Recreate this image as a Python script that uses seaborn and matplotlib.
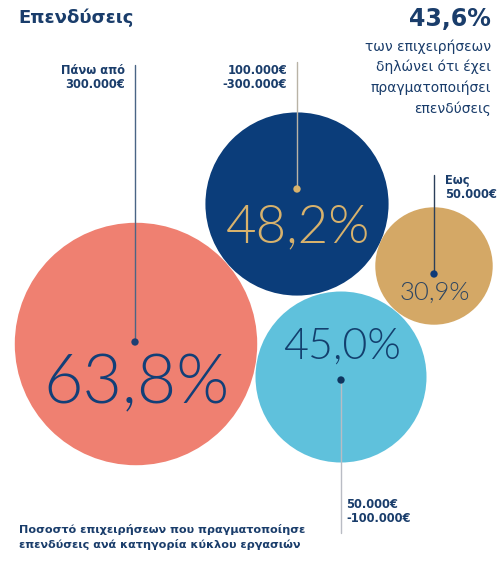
import matplotlib
matplotlib.use("Agg")
import matplotlib.pyplot as plt
from matplotlib.patches import Circle
import seaborn as sns
import pandas as pd

# ---- data ----
categories = ["Πάνω από\n300.000€", "100.000€\n-300.000€", "50.000€\n-100.000€", "Εως\n50.000€"]
values = [63.8, 48.2, 45.0, 30.9]
total_value = 43.6
title = "Επενδύσεις"
subtitle = "των επιχειρήσεων\nδηλώνει ότι έχει\nπραγματοποιήσει\nεπενδύσεις"
note = "Ποσοστό επιχειρήσεων που πραγματοποίησε\nεπενδύσεις ανά κατηγορία κύκλου εργασιών"

# ---- layout / style (pixel coordinates) ----
centers = [(136, 344), (297, 204), (341, 377), (434, 266)]
scale = 1.9
fills = ["#ef8071", "#0b3d7a", "#5fc1dc", "#d4a866"]
num_colors = ["#123f78", "#d8b26c", "#133f6e", "#2e4662"]
num_sizes = [49, 38, 31, 18.5]
num_offsets = [40, 24, -30, 27]
dots = [(135, 342), (297, 189), (341, 380), (434, 274)]
dot_colors = ["#1d3f73", "#d8b26c", "#0f355f", "#0e3a78"]
line_colors = ["#4a6585", "#b9b3a6", "#b9bcc4", "#2b3f5a"]
line_ends = [65, 62, 533, 175]
label_pos = [(125, 64, "right"), (287, 64, "right"), (346, 498, "left"), (445, 174, "left")]
navy = "#1a3d6b"
wide = ["DejaVu Sans"]

sns.set_theme(style="white")
plt.rcParams["font.family"] = ["Lato", "Noto Sans", "DejaVu Sans"]

fig = plt.figure(figsize=(5.01, 5.65), dpi=100)
ax = fig.add_axes([0, 0, 1, 1])
ax.set_xlim(0, 501)
ax.set_ylim(565, 0)
ax.set_aspect("equal")
ax.axis("off")

for (cx, cy), v, fc in zip(centers, values, fills):
    ax.add_patch(Circle((cx, cy), v * scale, facecolor=fc, edgecolor="none", zorder=1))

# leader lines
for (dx, dy), ye, lc in zip(dots, line_ends, line_colors):
    ax.plot([dx, dx], [dy, ye], color=lc, lw=1.0, zorder=2)

dots_df = pd.DataFrame({"x": [d[0] for d in dots], "y": [d[1] for d in dots], "cat": categories})
sns.scatterplot(data=dots_df, x="x", y="y", hue="cat", palette=dot_colors, s=28,
                edgecolor="none", legend=False, ax=ax, zorder=3)
ax.set_xlabel("")
ax.set_ylabel("")

for (cx, cy), v, col, fs, off in zip(centers, values, num_colors, num_sizes, num_offsets):
    ax.text(cx + 1, cy + off, f"{v:.1f}".replace(".", ",") + "%", color=col,
            fontsize=fs, fontweight=300, ha="center", va="center", zorder=4)

for cat, (lx, ly, ha) in zip(categories, label_pos):
    ax.text(lx, ly, cat, ha=ha, va="top", color=navy, fontsize=8.3, family=wide,
            fontweight="bold", linespacing=1.15, zorder=4)

ax.text(18, 18, title, ha="left", va="center", color=navy, fontsize=13,
        fontweight="bold", family=wide)
ax.text(491, 19, f"{total_value:.1f}".replace(".", ",") + "%", ha="right", va="center",
        color=navy, fontsize=17, fontweight="bold", family=wide)
ax.text(491, 39, subtitle, ha="right", va="top", color=navy, fontsize=10,
        linespacing=1.55, family=wide)
ax.text(19, 524, note, ha="left", va="top", color=navy, fontsize=8.1,
        fontweight="bold", linespacing=1.45, family=wide)

fig.savefig("out.png", dpi=100)
